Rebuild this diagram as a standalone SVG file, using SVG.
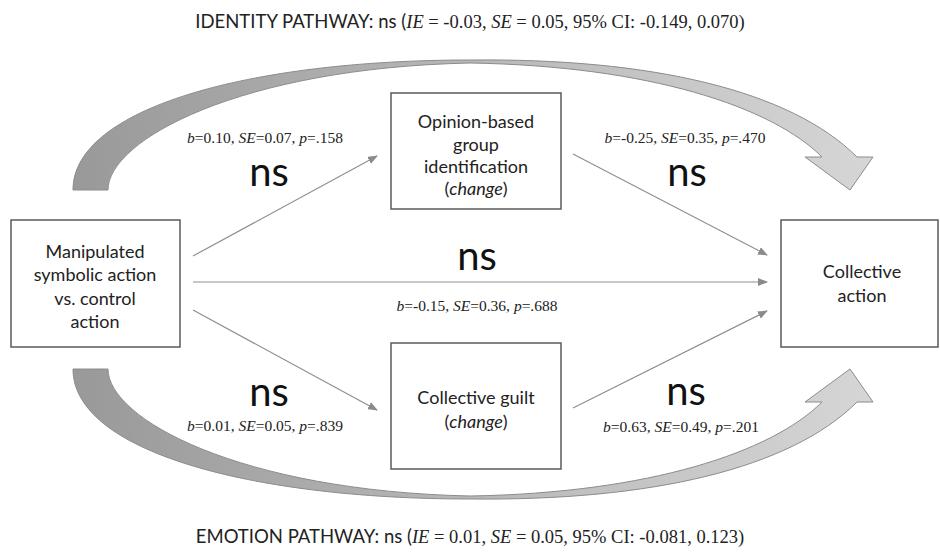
<svg xmlns="http://www.w3.org/2000/svg" width="940" height="552" viewBox="0 0 940 552">
<defs>
<linearGradient id="arcGrad" x1="73" y1="0" x2="873" y2="0" gradientUnits="userSpaceOnUse">
<stop offset="0" stop-color="#999999"/>
<stop offset="1" stop-color="#d6d6d6"/>
</linearGradient>
<marker id="ah" markerWidth="10" markerHeight="8" refX="9" refY="4" orient="auto" markerUnits="userSpaceOnUse">
<path d="M0,0 L10,4 L0,8 Z" fill="#8a8a8a"/>
</marker>
<style>
.box{fill:#fff;stroke:#5a5a5a;stroke-width:1.5}
.lbl{font-family:Lato,"Open Sans","Liberation Sans",sans-serif;font-size:18px;fill:#222;text-anchor:middle}
.ns{font-family:Lato,"Open Sans","Liberation Sans",sans-serif;font-size:40px;fill:#111;text-anchor:middle}
.stat{font-family:"Liberation Serif","Times New Roman",serif;font-size:15.5px;fill:#222;text-anchor:middle}
.title{font-family:"Liberation Serif","Times New Roman",serif;font-size:18.5px;fill:#222;text-anchor:middle}
.sans{font-family:Lato,"Open Sans","Liberation Sans",sans-serif}
.conn{stroke:#8f8f8f;stroke-width:1.2;fill:none;marker-end:url(#ah)}
.arc{fill:url(#arcGrad);stroke:#8c8c8c;stroke-width:1}
</style>
<path id="arcShape" d="M73,190 C73,108 250,60 470,60 C650,58 790,90 857,157 L873,157 L850,190 L805,157 L822,157 C772,107 650,66 470,63 C240,68 108,140 108,190 Z"/>
</defs>

<g id="arcs">
<use href="#arcShape" class="arc"/>
<use href="#arcShape" class="arc" transform="translate(0,559) scale(1,-1)"/>
</g>

<g id="connectors">
<line class="conn" x1="193" y1="256" x2="377" y2="156"/>
<line class="conn" x1="193" y1="282" x2="767" y2="282"/>
<line class="conn" x1="193" y1="310" x2="377" y2="410"/>
<line class="conn" x1="573" y1="154" x2="767" y2="255"/>
<line class="conn" x1="573" y1="408" x2="767" y2="311"/>
</g>

<g id="node-manipulated">
<rect class="box" x="11" y="220" width="169" height="127"/>
<text class="lbl" x="95" y="258">Manipulated</text>
<text class="lbl" x="95" y="281">symbolic action</text>
<text class="lbl" x="95" y="305">vs. control</text>
<text class="lbl" x="95" y="328">action</text>
</g>

<g id="node-identification">
<rect class="box" x="391" y="93" width="170" height="116"/>
<text class="lbl" x="476" y="128">Opinion-based</text>
<text class="lbl" x="476" y="151">group</text>
<text class="lbl" x="476" y="173">identification</text>
<text class="lbl" x="476" y="195">(<tspan font-style="italic">change</tspan>)</text>
</g>

<g id="node-guilt">
<rect class="box" x="391" y="343" width="170" height="126"/>
<text class="lbl" x="476" y="404">Collective guilt</text>
<text class="lbl" x="476" y="428">(<tspan font-style="italic">change</tspan>)</text>
</g>

<g id="node-collective">
<rect class="box" x="781" y="220" width="157" height="127"/>
<text class="lbl" x="862" y="278">Collective</text>
<text class="lbl" x="862" y="302">action</text>
</g>

<g id="labels">
<text class="stat" x="265" y="143"><tspan font-style="italic">b</tspan>=0.10, <tspan font-style="italic">SE</tspan>=0.07, <tspan font-style="italic">p</tspan>=.158</text>
<text class="ns" x="269" y="186">ns</text>
<text class="stat" x="685" y="143"><tspan font-style="italic">b</tspan>=-0.25, <tspan font-style="italic">SE</tspan>=0.35, <tspan font-style="italic">p</tspan>=.470</text>
<text class="ns" x="687" y="186">ns</text>
<text class="ns" x="477" y="270">ns</text>
<text class="stat" x="477" y="311"><tspan font-style="italic">b</tspan>=-0.15, <tspan font-style="italic">SE</tspan>=0.36, <tspan font-style="italic">p</tspan>=.688</text>
<text class="ns" x="269" y="406">ns</text>
<text class="stat" x="265" y="431"><tspan font-style="italic">b</tspan>=0.01, <tspan font-style="italic">SE</tspan>=0.05, <tspan font-style="italic">p</tspan>=.839</text>
<text class="ns" x="686" y="405">ns</text>
<text class="stat" x="681" y="432"><tspan font-style="italic">b</tspan>=0.63, <tspan font-style="italic">SE</tspan>=0.49, <tspan font-style="italic">p</tspan>=.201</text>
</g>

<g id="titles">
<text class="title" x="470" y="28"><tspan class="sans">IDENTITY PATHWAY: ns (</tspan><tspan font-style="italic">IE</tspan> = -0.03, <tspan font-style="italic">SE</tspan> = 0.05, 95% CI: -0.149, 0.070)</text>
<text class="title" x="470" y="543"><tspan class="sans">EMOTION PATHWAY: ns (</tspan><tspan font-style="italic">IE</tspan> = 0.01, <tspan font-style="italic">SE</tspan> = 0.05, 95% CI: -0.081, 0.123)</text>
</g>
</svg>
